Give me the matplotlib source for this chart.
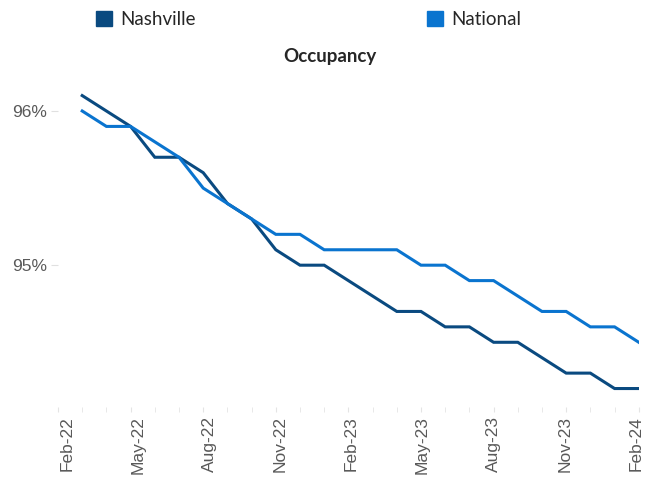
import matplotlib
matplotlib.use("Agg")
import matplotlib.pyplot as plt
from matplotlib.patches import Patch
from matplotlib.ticker import FixedLocator, FuncFormatter
from matplotlib.transforms import ScaledTranslation

# Axis categories (monthly)
months = ["Feb-22", "Mar-22", "Apr-22", "May-22", "Jun-22", "Jul-22", "Aug-22",
          "Sep-22", "Oct-22", "Nov-22", "Dec-22", "Jan-23", "Feb-23", "Mar-23",
          "Apr-23", "May-23", "Jun-23", "Jul-23", "Aug-23", "Sep-23", "Oct-23",
          "Nov-23", "Dec-23", "Jan-24", "Feb-24"]
# Series start in Mar-22
series_months = months[1:]
nashville = [96.1, 96.0, 95.9, 95.7, 95.7, 95.6, 95.4, 95.3, 95.1, 95.0, 95.0, 94.9,
             94.8, 94.7, 94.7, 94.6, 94.6, 94.5, 94.5, 94.4, 94.3, 94.3, 94.2, 94.2]
national = [96.0, 95.9, 95.9, 95.8, 95.7, 95.5, 95.4, 95.3, 95.2, 95.2, 95.1, 95.1,
            95.1, 95.1, 95.0, 95.0, 94.9, 94.9, 94.8, 94.7, 94.7, 94.6, 94.6, 94.5]
tick_labels = months[::3]
y_ticks = [95, 96]

col_nash = "#0A4A80"
col_nat = "#0A74CF"

fig = plt.figure(figsize=(6.46, 4.8), dpi=100)
ax = fig.add_axes([0.0898, 0.152, 0.899, 0.681])

xi = [months.index(m) for m in series_months]
ax.plot(xi, nashville, color=col_nash, lw=2.2, solid_joinstyle="miter")
ax.plot(xi, national, color=col_nat, lw=2.2, solid_joinstyle="miter")

ax.set_xlim(0, len(months) - 1)
ax.set_ylim(94.08, 96.2)

for s in ax.spines.values():
    s.set_visible(False)

ax.set_xticks(range(0, len(months), 3))
ax.set_xticklabels(tick_labels, rotation=90, fontsize=12.5, color="#595959",
                   family="Liberation Sans")
ax.xaxis.set_minor_locator(FixedLocator(range(len(months))))
ax.tick_params(axis="x", which="both", length=3.6, color="#E4E4E4", direction="out", pad=3)
n_lab = len(tick_labels)
for k, lab in enumerate(ax.get_xticklabels()):
    dx = (9 - 12 * k / (n_lab - 1)) / 100.0
    lab.set_transform(lab.get_transform() + ScaledTranslation(dx, 0, fig.dpi_scale_trans))

ax.set_yticks(y_ticks)
ax.yaxis.set_major_formatter(FuncFormatter(lambda v, p: f"{v:.0f}%"))
ax.tick_params(axis="y", length=5, color="#E0E0E0", labelsize=12.5,
               labelcolor="#595959", pad=3)
for t in ax.get_yticklabels():
    t.set_family("Liberation Sans")

fig.text(0.511, 0.882, "Occupancy", ha="center", va="center", fontsize=13.5,
         fontweight="bold", color="#262626", family="Lato")

handles = [Patch(color=col_nash, label="Nashville"), Patch(color=col_nat, label="National")]
fig.legend(handles=handles, loc="upper left", bbox_to_anchor=(0.1226, 1.012), ncol=2,
           frameon=False, handlelength=0.85, handleheight=0.85,
           handletextpad=0.45, columnspacing=12.3, prop={"family": "Lato", "size": 13.5},
           labelcolor="#262626")

fig.savefig("out.png", dpi=100)
